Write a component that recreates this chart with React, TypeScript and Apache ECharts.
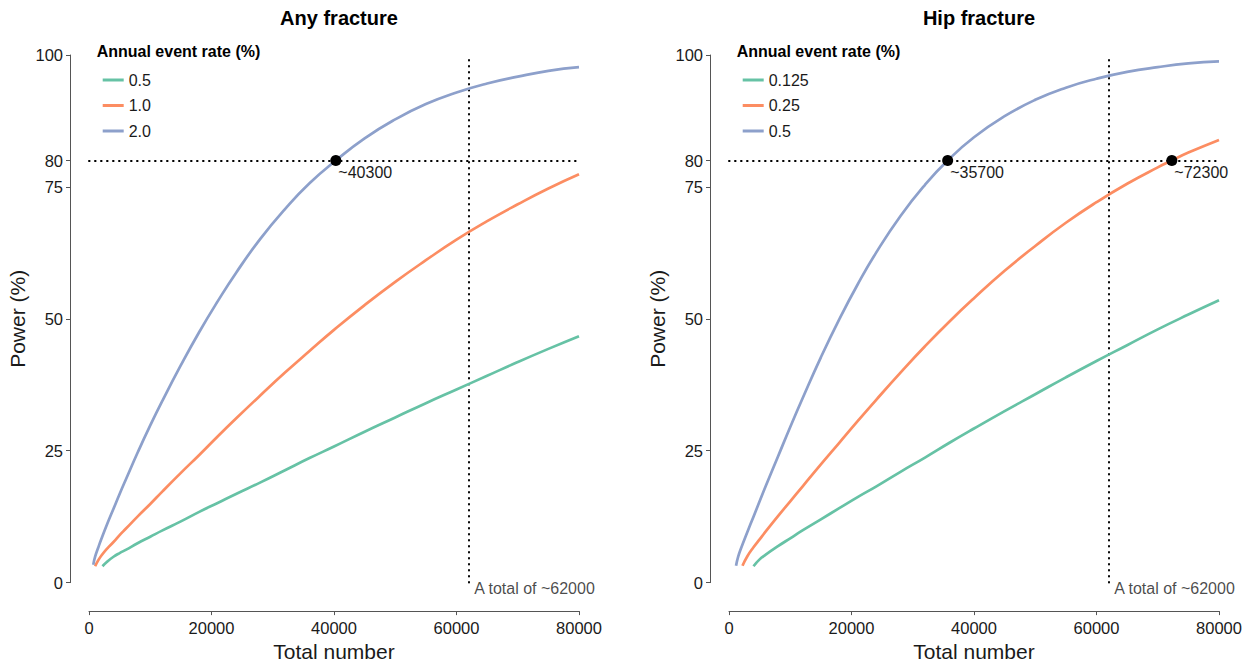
import React, { useEffect, useRef } from 'react';
import * as echarts from 'echarts';

const FONT = '"Liberation Sans", Arial, Helvetica, sans-serif';
const COLORS = ['#66C2A5', '#FC8D62', '#8DA0CB'];

const panelTitles = ['Any fracture', 'Hip fracture'];
const legendTitle = 'Annual event rate (%)';
const xTitle = 'Total number';
const yTitle = 'Power (%)';
const yTicks = [0, 25, 50, 75, 80, 100];
const targetPower = 80;
const totalPlanned = 62000;

// Any fracture
const anyRates = ['0.5', '1.0', '2.0'];
const anyN_05 = [2200, 3000, 4000, 5000, 6000, 8000, 10000, 12000, 15000, 18000, 21000, 24000, 28000, 32000, 36000, 40000, 45000, 50000, 55000, 60000, 65000, 70000, 75000, 80000];
const anyP_05 = [3.1, 4.0, 4.9, 5.6, 6.2, 7.5, 8.7, 9.9, 11.6, 13.4, 15.1, 16.8, 19.0, 21.3, 23.6, 25.8, 28.6, 31.3, 34.0, 36.6, 39.2, 41.8, 44.3, 46.7];
const anyN_1 = [1000, 1500, 2000, 3000, 4000, 5000, 6000, 8000, 10000, 12000, 15000, 18000, 21000, 24000, 28000, 32000, 36000, 40000, 45000, 50000, 55000, 60000, 65000, 70000, 75000, 80000];
const anyP_1 = [3.1, 4.2, 5.1, 6.5, 7.7, 9.0, 10.2, 12.6, 14.9, 17.3, 20.8, 24.2, 27.7, 31.1, 35.5, 39.8, 43.9, 47.9, 52.6, 57.0, 61.1, 65.0, 68.5, 71.7, 74.7, 77.4];
const anyN_2 = [700, 1000, 1500, 2000, 3000, 4000, 5000, 6000, 8000, 10000, 12000, 15000, 18000, 21000, 24000, 28000, 32000, 36000, 40300, 45000, 50000, 55000, 60000, 65000, 70000, 75000, 80000];
const anyP_2 = [3.4, 4.9, 6.6, 8.2, 11.2, 14.0, 16.8, 19.5, 24.8, 29.8, 34.5, 41.2, 47.5, 53.3, 58.7, 65.2, 70.8, 75.7, 80.0, 84.2, 87.8, 90.7, 92.9, 94.6, 95.9, 97.0, 97.7];
const anyCrossings = [40300];

// Hip fracture
const hipRates = ['0.125', '0.25', '0.5'];
const hipN_0125 = [4000, 5000, 6000, 8000, 10000, 12000, 15000, 18000, 21000, 24000, 28000, 32000, 36000, 40000, 45000, 50000, 55000, 60000, 65000, 70000, 75000, 80000];
const hipP_0125 = [3.1, 4.4, 5.3, 6.9, 8.4, 9.9, 12.0, 14.1, 16.2, 18.2, 21.0, 23.7, 26.5, 29.2, 32.5, 35.7, 38.9, 42.0, 45.0, 48.0, 50.8, 53.5];
const hipN_025 = [2200, 3000, 4000, 5000, 6000, 8000, 10000, 12000, 15000, 18000, 21000, 24000, 28000, 32000, 36000, 40000, 45000, 50000, 55000, 60000, 65000, 70000, 72300, 75000, 80000];
const hipP_025 = [3.2, 5.0, 6.7, 8.2, 9.7, 12.6, 15.4, 18.2, 22.4, 26.5, 30.6, 34.6, 39.8, 44.8, 49.5, 53.9, 59.1, 63.8, 68.2, 72.1, 75.6, 78.7, 80.0, 81.5, 83.9];
const hipN_05 = [1150, 1500, 2000, 3000, 4000, 5000, 6000, 8000, 10000, 12000, 15000, 18000, 21000, 24000, 28000, 32000, 35700, 40000, 45000, 50000, 55000, 60000, 65000, 70000, 75000, 80000];
const hipP_05 = [3.2, 4.9, 6.6, 9.6, 12.5, 15.4, 18.3, 23.9, 29.5, 34.9, 42.7, 49.9, 56.5, 62.5, 69.5, 75.4, 80.0, 84.4, 88.4, 91.5, 93.8, 95.5, 96.8, 97.7, 98.4, 98.8];
const hipCrossings = [35700, 72300];

const panels = [
  { key: 'any', rates: anyRates, xs: [anyN_05, anyN_1, anyN_2], ys: [anyP_05, anyP_1, anyP_2], crossings: anyCrossings },
  { key: 'hip', rates: hipRates, xs: [hipN_0125, hipN_025, hipN_05], ys: [hipP_0125, hipP_025, hipP_05], crossings: hipCrossings },
];

const GRID_LEFT = [89, 729];
const GRID_TOP = 55;
const GRID_W = 490;
const GRID_H = 533.5;
const AXIS_COLOR = '#555555';
const TEXT_COLOR = '#1a1a1a';

function buildOption() {
  const grid: any[] = [];
  const xAxis: any[] = [];
  const yAxis: any[] = [];
  const series: any[] = [];
  const legend: any[] = [];
  const title: any[] = [];

  panels.forEach((p, pi) => {
    const left = GRID_LEFT[pi];
    grid.push({ left, top: GRID_TOP, width: GRID_W, height: GRID_H, containLabel: false });
    xAxis.push({
      type: 'value', gridIndex: pi, min: 0, max: 80000, interval: 20000, offset: 28.5,
      axisLine: { show: true, onZero: false, lineStyle: { color: AXIS_COLOR, width: 1 } },
      axisTick: { show: true, length: 4, lineStyle: { color: AXIS_COLOR, width: 1 } },
      axisLabel: { show: true, margin: 8, fontSize: 16.5, color: TEXT_COLOR, fontFamily: FONT, formatter: (v: number) => String(v) },
      splitLine: { show: false },
      name: xTitle, nameLocation: 'middle', nameGap: 26,
      nameTextStyle: { fontSize: 21, color: TEXT_COLOR, fontFamily: FONT },
    });
    yAxis.push({
      type: 'value', gridIndex: pi, min: 0, max: 100, offset: 19,
      axisLine: { show: true, onZero: false, lineStyle: { color: AXIS_COLOR, width: 1 } },
      axisTick: { show: true, length: 4, customValues: yTicks, lineStyle: { color: AXIS_COLOR, width: 1 } },
      axisLabel: { show: true, customValues: yTicks, margin: 7, fontSize: 16.5, color: TEXT_COLOR, fontFamily: FONT },
      splitLine: { show: false },
      name: yTitle, nameLocation: 'middle', nameGap: 42,
      nameTextStyle: { fontSize: 21, color: TEXT_COLOR, fontFamily: FONT },
    });

    const names: string[] = [];
    p.rates.forEach((r, i) => {
      const name = `${p.key}|${r}`;
      names.push(name);
      const data = p.xs[i].map((x, k) => [x, p.ys[i][k]]);
      const s: any = {
        type: 'line', name, xAxisIndex: pi, yAxisIndex: pi, data,
        symbol: 'none', showSymbol: false, smooth: true,
        lineStyle: { width: 2.7, color: COLORS[i] }, itemStyle: { color: COLORS[i] },
        z: 3,
      };
      if (i === 0) {
        s.markLine = {
          silent: true, symbol: 'none', z: 2,
          lineStyle: { color: '#000', width: 2, type: [0.6, 5.4], cap: 'round' },
          label: { show: false },
          emphasis: { disabled: true },
          data: [{ yAxis: targetPower }, { xAxis: totalPlanned }],
        };
      }
      series.push(s);
    });

    series.push({
      type: 'scatter', name: `${p.key}-cross`, xAxisIndex: pi, yAxisIndex: pi,
      data: p.crossings.map((c) => [c, targetPower]),
      symbol: 'circle', symbolSize: 11, itemStyle: { color: '#000', opacity: 1 }, z: 5,
      label: {
        show: true, position: [8, 17], align: 'left', verticalAlign: 'middle',
        formatter: (d: any) => `~${d.value[0]}`,
        fontSize: 16, color: TEXT_COLOR, fontFamily: FONT,
      },
    });
    series.push({
      type: 'scatter', name: `${p.key}-total`, xAxisIndex: pi, yAxisIndex: pi,
      data: [[totalPlanned, 0]],
      symbol: 'circle', symbolSize: 1, itemStyle: { color: 'rgba(0,0,0,0)' }, z: 5,
      label: {
        show: true, position: 'right', distance: 4, offset: [1, 6],
        formatter: (d: any) => `A total of ~${d.value[0]}`,
        fontSize: 16, color: TEXT_COLOR, fontFamily: FONT,
      },
    });

    legend.push({
      data: names, orient: 'vertical', left: left + 8.7, top: 67,
      icon: 'rect', itemWidth: 21, itemHeight: 3, itemGap: 9.5, selectedMode: false,
      formatter: (n: string) => n.split('|')[1],
      textStyle: { fontSize: 16, color: TEXT_COLOR, fontFamily: FONT, lineHeight: 16 },
    });

    title.push({
      text: panelTitles[pi], left: left + GRID_W / 2, top: 3, textAlign: 'center',
      textStyle: { fontSize: 20, fontWeight: 'bold', color: '#000', fontFamily: FONT },
    });
    title.push({
      text: legendTitle, left: left + 7.7, top: 43, padding: 0,
      textStyle: { fontSize: 16, fontWeight: 'bold', color: '#000', fontFamily: FONT },
    });
  });

  return {
    animation: false,
    backgroundColor: '#ffffff',
    textStyle: { fontFamily: FONT },
    title, legend, grid, xAxis, yAxis, series,
  };
}

export default function App() {
  const ref = useRef<HTMLDivElement>(null);
  useEffect(() => {
    if (!ref.current) return;
    const chart = echarts.init(ref.current, null, { renderer: 'svg' });
    chart.setOption(buildOption() as any);
    return () => chart.dispose();
  }, []);
  return (
    <div
      ref={ref}
      style={{ position: 'fixed', left: 0, top: 0, width: 1259, height: 667, background: '#fff' }}
    />
  );
}
